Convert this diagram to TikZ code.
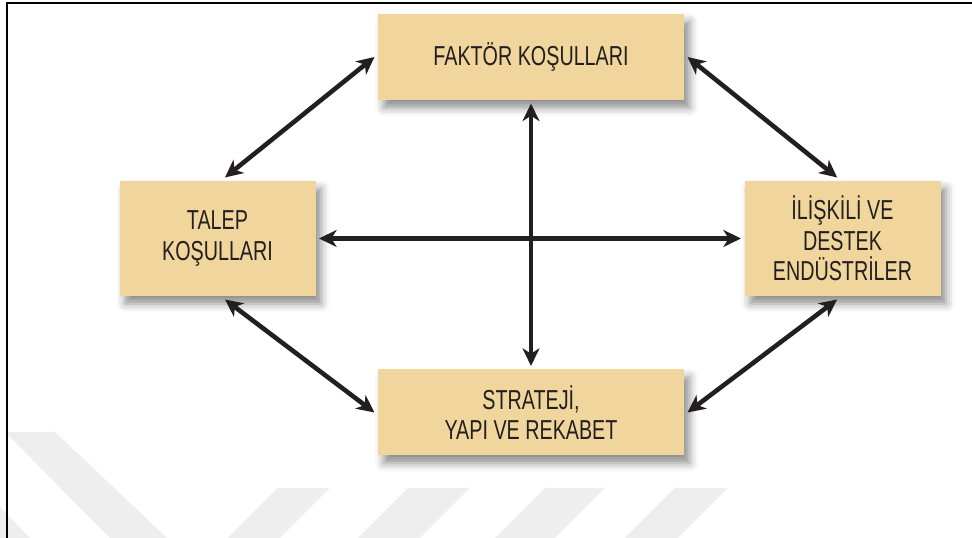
\documentclass[tikz,border=0pt]{standalone}
\usepackage{fontspec}
\setmainfont{Liberation Sans}[FakeStretch=0.72]
\usetikzlibrary{arrows.meta,shadows.blur}

\definecolor{boxfill}{RGB}{240,214,156}
\definecolor{inkblack}{RGB}{35,31,32}
\definecolor{wmgray}{RGB}{238,238,238}

\begin{document}
\begin{tikzpicture}[
    box/.style={fill=boxfill, text=inkblack, inner sep=0pt, outer sep=1pt,
      align=center, font=\fontsize{7.8}{8.7}\selectfont,
      blur shadow={shadow xshift=1.6pt, shadow yshift=-2.2pt,
        shadow blur radius=2.4pt, shadow opacity=45}},
    wide/.style={box, minimum width=3.06cm, minimum height=0.86cm},
    tall/.style={box, minimum width=1.96cm, minimum height=1.15cm},
    link/.style={draw=inkblack, line width=1.3pt,
      {Stealth[length=5pt,width=4.8pt,inset=1.5pt]}-{Stealth[length=5pt,width=4.8pt,inset=1.5pt]}}
  ]
  \useasboundingbox (0,0) rectangle (9.72,5.38);

  % Watermark bands
  \fill[wmgray] (0.05,1.06) -- (0.55,1.06) -- (1.67,0) -- (1.10,0) -- cycle;
  \fill[wmgray] (0,0.31) -- (0,0) -- (0.30,0) -- cycle;
  \foreach \a/\b in {2.78/3.30, 4.08/4.70, 5.45/6.05, 6.75/7.28}
    \fill[wmgray] (\a,0.50) -- (\b,0.50) -- (\b-0.5,0) -- (\a-0.5,0) -- cycle;

  % Frame
  \draw[line width=0.7pt] (0.07,0) -- (0.07,5.35) -- (9.72,5.35);

  % Boxes
  \node[wide] (faktor)   at (5.31,4.81)  {FAKTÖR KOŞULLARI};
  \node[tall] (talep)    at (2.175,2.995) {TALEP\\KOŞULLARI};
  \node[tall] (iliskili) at (8.425,2.995) {İLİŞKİLİ VE\\DESTEK\\ENDÜSTRİLER};
  \node[wide] (strateji) at (5.31,1.255) {STRATEJİ,\\YAPI VE REKABET};

  % Cross
  \draw[link] (faktor.south) -- (strateji.north);
  \draw[link] (talep.east) -- (iliskili.west);

  % Sides of the diamond
  \draw[link] (talep.83)     -- (faktor.west);
  \draw[link] (iliskili.95)  -- (faktor.east);
  \draw[link] (talep.-83)    -- (strateji.west);
  \draw[link] (iliskili.-95) -- (strateji.east);

\end{tikzpicture}
\end{document}
